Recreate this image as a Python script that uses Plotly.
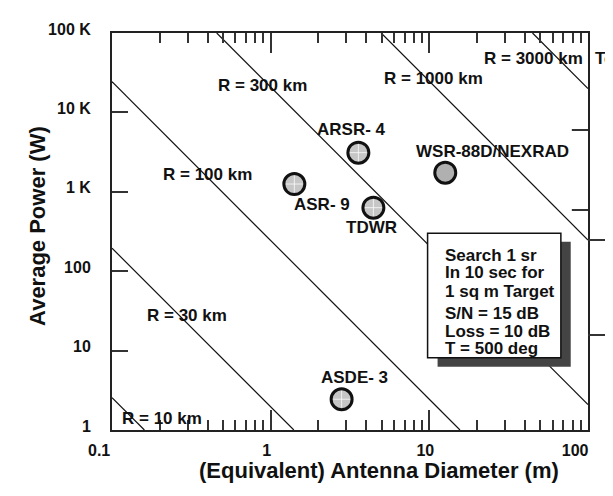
import plotly.graph_objects as go
import math

# ---------------- data ----------------
radar_names = ["ARSR- 4", "WSR-88D/NEXRAD", "TDWR", "ASR- 9", "ASDE- 3"]
radar_diam_m = [3.57, 12.6, 4.44, 1.41, 2.80]
radar_power_w = [3110, 1740, 631, 1253, 2.44]

range_km = [10, 30, 100, 300, 1000, 3000]
range_labels = ["R = 10 km", "R = 30 km", "R = 100 km", "R = 300 km", "R = 1000 km", "R = 3000 km"]
line_d_start = [0.1, 0.1, 0.1, 0.457, 4.97, 44.7]
line_p_start = [2.55, 195, 24400, 100000, 100000, 100000]
line_d_end = [0.160, 1.40, 15.6, 100, 100, 100]
line_p_end = [1, 1, 1, 2.09, 247, 19950]

x_tick_vals = [0.1, 1, 10, 100]
x_tick_text = ["0.1\u00a0\u00a0\u00a0\u00a0", "1", "10", "100\u00a0\u00a0\u00a0\u00a0"]
y_tick_vals = [1, 10, 100, 1000, 10000, 100000]
y_tick_text = ["1", "10", "100", "1 K", "10 K", "100 K"]

note_lines = ["Search 1 sr", "In 10 sec for", "1 sq m Target", "S/N = 15 dB", "Loss = 10 dB", "T = 500 deg"]

FONT = "Liberation Sans, Arial, sans-serif"
fig = go.Figure()

for r, ds, ps, de, pe in zip(range_km, line_d_start, line_p_start, line_d_end, line_p_end):
    fig.add_trace(go.Scatter(x=[ds, de], y=[ps, pe], mode="lines",
                             line=dict(color="#111", width=1.2), showlegend=False,
                             hoverinfo="skip"))

fill_colors = ["#c6c6c6", "#b0b0b0", "#c6c6c6", "#c6c6c6", "#c6c6c6"]
cross_colors = ["rgba(255,255,255,0.75)", "rgba(0,0,0,0)", "rgba(255,255,255,0.75)",
                "rgba(255,255,255,0.75)", "rgba(255,255,255,0.75)"]

fig.add_trace(go.Scatter(x=radar_diam_m, y=radar_power_w, mode="markers",
                         marker=dict(symbol="circle", size=21, color=fill_colors,
                                     line=dict(color="#111", width=3)),
                         showlegend=False))
fig.add_trace(go.Scatter(x=radar_diam_m, y=radar_power_w, mode="markers", hoverinfo="skip",
                         marker=dict(symbol="cross-thin-open", size=12, color=cross_colors,
                                     line=dict(color=cross_colors, width=1)),
                         showlegend=False))

annotations = []
range_label_pos = [(-0.682, 0.139), (-0.527, 1.436), (-0.398, 3.224), (-0.0515, 4.333), (1.026, 4.433), (1.656, 4.673)]
for txt, (lx, ly) in zip(range_labels, range_label_pos):
    annotations.append(dict(x=lx, y=ly, xref="x", yref="y", text=txt, showarrow=False,
                            font=dict(family=FONT, size=17, color="#111", weight="bold")))
annotations.append(dict(x=1.011, y=4.673, xref="paper", yref="y", text="Te", showarrow=False,
                        xanchor="left", font=dict(family=FONT, size=17, color="#111", weight="bold")))

label_shift = [(-6.6, 22.7), (47.7, 21.7), (-1.6, -20.3), (27.7, -20), (13.3, 22)]
for name, d, p, (sx, sy) in zip(radar_names, radar_diam_m, radar_power_w, label_shift):
    annotations.append(dict(x=math.log10(d), y=math.log10(p), xref="x", yref="y", text=name,
                            showarrow=False, xshift=sx, yshift=sy,
                            font=dict(family=FONT, size=17, color="#111", weight="bold")))

note_y = [0.4383, 0.3955, 0.3501, 0.2947, 0.2469, 0.2065]
for txt, ny in zip(note_lines, note_y):
    annotations.append(dict(x=0.6947, y=ny, xref="paper", yref="paper", text=txt, showarrow=False,
                            xanchor="left", yanchor="middle",
                            font=dict(family=FONT, size=17, color="#111", weight="bold")))

annotations.append(dict(x=0.561, y=-0.1025, xref="paper", yref="paper",
                        text="(Equivalent) Antenna Diameter (m)", showarrow=False,
                        yanchor="middle", font=dict(family=FONT, size=22, color="#111", weight="bold")))
annotations.append(dict(x=-0.1555, y=0.514, xref="paper", yref="paper", textangle=-90,
                        text="Average Power (W)", showarrow=False, xanchor="center",
                        font=dict(family=FONT, size=22, color="#111", weight="bold")))

shapes = [
    dict(type="rect", xref="paper", yref="paper", x0=0.684, x1=0.9637, y0=0.1594, y1=0.474,
         fillcolor="#444444", line=dict(width=0), layer="above"),
    dict(type="rect", xref="paper", yref="paper", x0=0.663, x1=0.943, y0=0.182, y1=0.4955,
         fillcolor="white", line=dict(color="#111", width=1.5), layer="above"),
]
for yv in [0.7557, 0.5542]:
    shapes.append(dict(type="line", xref="paper", yref="paper", x0=0.966, x1=1.0, y0=yv, y1=yv,
                       line=dict(color="#333", width=2)))
for yv in [(430 - 240) / 397, (430 - 335) / 397]:
    shapes.append(dict(type="line", xref="paper", yref="paper", x0=1.0, x1=1.038, y0=yv, y1=yv,
                       line=dict(color="#333", width=2)))

minor_x = [m * 10 ** e for e in (-1, 0, 1) for m in range(2, 10)]

# page body has an 8px margin: compensate so the plot frame lands at x 112..588, y 33..430
fig.update_layout(
    width=605, height=488,
    margin=dict(l=104, r=25, t=25, b=66),
    paper_bgcolor="white", plot_bgcolor="white",
    showlegend=False,
    annotations=annotations, shapes=shapes,
    font=dict(family=FONT, size=16, color="#111"),
    xaxis=dict(type="log", range=[-1, 2], tickmode="array", tickvals=x_tick_vals, ticktext=x_tick_text,
               ticks="inside", ticklen=20, tickwidth=2, tickcolor="#333", automargin=False,
               showline=True, linecolor="#222", linewidth=2, mirror="allticks",
               showgrid=False, zeroline=False, ticklabelshift=-4, ticklabelstandoff=5,
               tickfont=dict(family=FONT, size=16, color="#111", weight="bold"),
               minor=dict(tickmode="array", tickvals=minor_x, ticks="inside", ticklen=10,
                          tickwidth=2, tickcolor="#333", showgrid=False)),
    yaxis=dict(type="log", range=[0, 5], tickmode="array", tickvals=y_tick_vals, ticktext=y_tick_text,
               ticks="inside", ticklen=16, tickwidth=2, tickcolor="#333", automargin=False,
               showline=True, linecolor="#222", linewidth=2, mirror=True,
               showgrid=False, zeroline=False, ticklabelshift=-4, ticklabelstandoff=16,
               tickfont=dict(family=FONT, size=16, color="#111", weight="bold")),
)

fig.write_html("out.html")
